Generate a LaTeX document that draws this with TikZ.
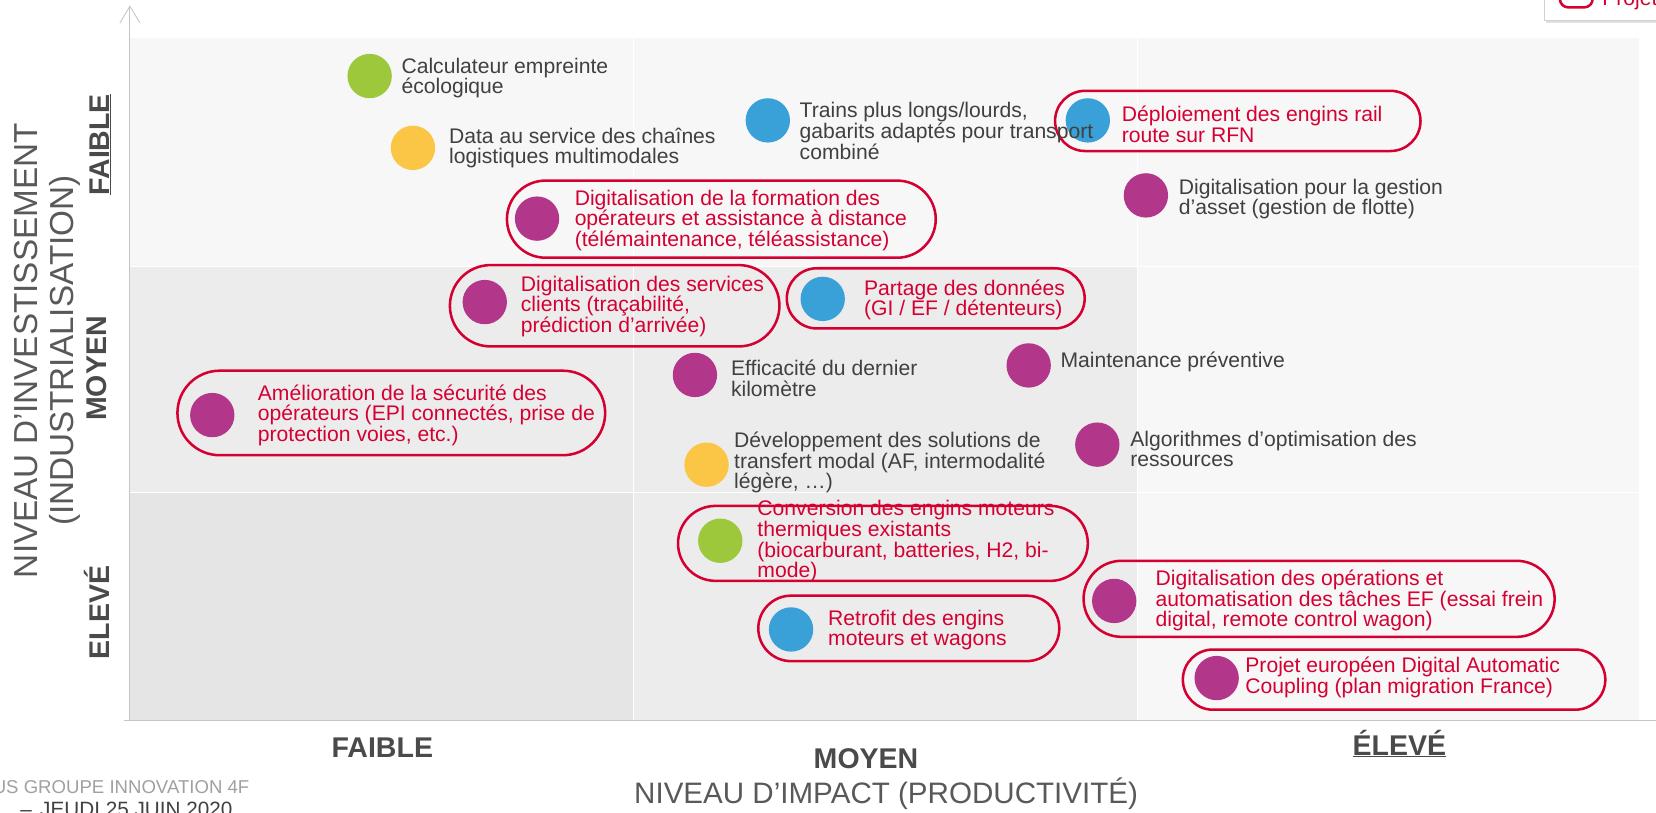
\documentclass[tikz,border=0pt]{standalone}
\usepackage{fontspec}
\setmainfont{Liberation Sans}
\usetikzlibrary{shapes.misc,arrows.meta}
% tight leading for the item labels
\setlength{\lineskiplimit}{-100pt}

\definecolor{projred}{RGB}{213,0,50}
\definecolor{dotpurple}{RGB}{178,55,138}
\definecolor{dotblue}{RGB}{58,160,216}
\definecolor{dotgreen}{RGB}{157,200,59}
\definecolor{dotyellow}{RGB}{251,197,70}
\definecolor{txtgrey}{RGB}{64,64,64}
\definecolor{titlegrey}{RGB}{89,89,89}
\definecolor{levelgrey}{RGB}{74,74,74}
\definecolor{footgrey}{RGB}{160,160,160}
\definecolor{axisline}{RGB}{200,196,192}
\definecolor{bglight}{RGB}{247,247,247}
\definecolor{bgmid}{RGB}{236,236,236}
\definecolor{bgdark}{RGB}{229,229,229}

\tikzset{
  dot/.style={circle, minimum size=42pt, inner sep=0pt},
  lbl/.style={anchor=west, align=left, inner sep=0pt, text=txtgrey,
              font=\fontsize{20}{19.5}\selectfont},
  plbl/.style={lbl, text=projred},
  pill/.style={rounded rectangle, draw=projred, line width=2.4pt, inner sep=0pt},
  gridline/.style={white, line width=1.2pt},
  axis/.style={axisline, line width=1pt},
  level/.style={font=\fontsize{27}{30}\selectfont\bfseries, text=levelgrey, inner sep=0pt},
  axtitle/.style={font=\fontsize{28}{34}\selectfont, text=titlegrey, inner sep=0pt, align=center}
}

\begin{document}
\begin{tikzpicture}[x=1pt,y=-1pt]
\useasboundingbox (0,0) rectangle (1568,769);

% quadrant backgrounds
\fill[bglight] (123,36) rectangle (1552,252);
\fill[bgmid]   (123,252) rectangle (1077,466);
\fill[bglight] (1077,252) rectangle (1552,682);
\fill[bgdark]  (123,466) rectangle (600,682);
\fill[bgmid]   (600,466) rectangle (1077,682);
\draw[gridline] (600,36) -- (600,682);
\draw[gridline] (1077,36) -- (1077,682);
\draw[gridline] (123,252) -- (1552,252);
\draw[gridline] (123,466) -- (1552,466);

% axes
\coordinate (origin) at (123,682);
\coordinate (ytop) at (123,5);
\coordinate (xleft) at (117,682);
\coordinate (xright) at (1568,682);
\draw[axis, -{Straight Barb[length=16pt,width=19pt,line width=0.8pt]}] (origin) -- (ytop);
\draw[axis] (xleft) -- (xright);

% legend (top right)
\fill[black!12] (1464,-30) rectangle (1602,21.5);
\node[draw=black!18, fill=white, line width=0.8pt, minimum width=138pt, minimum height=49.5pt, inner sep=0pt] (legbox) at (1531,-5.25) {};
\node[draw=projred, fill=white, line width=2.4pt, rounded corners=8pt, minimum width=31pt, minimum height=27pt, inner sep=0pt] (legicon) at (1492.5,-6.5) {};
\node[anchor=base west, inner sep=0pt, text=projred, font=\fontsize{20}{19.5}\selectfont] (legtext) at (1517,5.4) {Projet};

% framed items (projects)
\node[pill, minimum width=346pt, minimum height=57pt] (p4)  at (1172,114.5) {};
\node[pill, minimum width=406pt, minimum height=73pt] (p6)  at (683,207.5) {};
\node[pill, minimum width=312pt, minimum height=77pt] (p7)  at (582,289.5) {};
\node[pill, minimum width=282pt, minimum height=57pt] (p8)  at (886,282.5) {};
\node[pill, minimum width=405pt, minimum height=80pt] (p11) at (370.5,391) {};
\node[pill, minimum width=388pt, minimum height=71pt] (p14) at (836,514.5) {};
\node[pill, minimum width=285pt, minimum height=62pt] (p15) at (860.5,595) {};
\node[pill, minimum width=446pt, minimum height=72pt] (p16) at (1249,567) {};
\node[pill, minimum width=400pt, minimum height=57pt] (p17) at (1320,643.5) {};

% dots
\node[dot, fill=dotgreen]  (c1)  at (350,72) {};
\node[dot, fill=dotyellow] (c2)  at (391,140) {};
\node[dot, fill=dotblue]   (c3)  at (727,114) {};
\node[dot, fill=dotblue]   (c4)  at (1030,114) {};
\node[dot, fill=dotpurple] (c5)  at (1085,185) {};
\node[dot, fill=dotpurple] (c6)  at (508.5,207) {};
\node[dot, fill=dotpurple] (c7)  at (459,286) {};
\node[dot, fill=dotblue]   (c8)  at (779,283) {};
\node[dot, fill=dotpurple] (c9)  at (658,355) {};
\node[dot, fill=dotpurple] (c10) at (974,346) {};
\node[dot, fill=dotpurple] (c11) at (201,393) {};
\node[dot, fill=dotyellow] (c12) at (669,440) {};
\node[dot, fill=dotpurple] (c13) at (1039,421) {};
\node[dot, fill=dotgreen]  (c14) at (682,512) {};
\node[dot, fill=dotblue]   (c15) at (749,596) {};
\node[dot, fill=dotpurple] (c16) at (1055,569) {};
\node[dot, fill=dotpurple] (c17) at (1152,642) {};

% item labels
\node[lbl]  (t1)  at (380,74)    {Calculateur empreinte\\écologique};
\node[lbl]  (t2)  at (425,140)   {Data au service des chaînes\\logistiques multimodales};
\node[lbl]  (t3)  at (757,124)   {Trains plus longs/lourds,\\gabarits adaptés pour transport\\combiné};
\node[plbl] (t4)  at (1062,117.5) {Déploiement des engins rail\\route sur RFN};
\node[lbl]  (t5)  at (1116,188.5) {Digitalisation pour la gestion\\d’asset (gestion de flotte)};
\node[plbl] (t6)  at (544,208.5) {Digitalisation de la formation des\\opérateurs et assistance à distance\\(télémaintenance, téléassistance)};
\node[plbl] (t7)  at (493,290)   {Digitalisation des services\\clients (traçabilité,\\prédiction d’arrivée)};
\node[plbl] (t8)  at (818,284)   {Partage des données\\(GI / EF / détenteurs)};
\node[lbl]  (t9)  at (692,358)   {Efficacité du dernier\\kilomètre};
\node[lbl]  (t10) at (1004,343)  {Maintenance préventive};
\node[plbl] (t11) at (244,393)   {Amélioration de la sécurité des\\opérateurs (EPI connectés, prise de\\protection voies, etc.)};
\node[lbl]  (t12) at (695,438)   {Développement des solutions de\\transfert modal (AF, intermodalité\\légère, …)};
\node[lbl]  (t13) at (1070,425)  {Algorithmes d’optimisation des\\ressources};
\node[plbl] (t14) at (717,512.5) {Conversion des engins moteurs\\thermiques existants\\(biocarburant, batteries, H2, bi-\\mode)};
\node[plbl] (t15) at (784,596.5) {Retrofit des engins\\moteurs et wagons};
\node[plbl] (t16) at (1094,568.5) {Digitalisation des opérations et\\automatisation des tâches EF (essai frein\\digital, remote control wagon)};
\node[plbl] (t17) at (1179,641.5) {Projet européen Digital Automatic\\Coupling (plan migration France)};

% axis titles and levels
\node[axtitle, rotate=90, font=\fontsize{31.5}{34}\selectfont] (ytitle) at (45,332) {NIVEAU D’INVESTISSEMENT\\(INDUSTRIALISATION)};
\node[level, rotate=90] (ylow)  at (95,137) {\underline{FAIBLE}};
\node[level, rotate=90] (ymid)  at (92,349) {MOYEN};
\node[level, rotate=90] (yhigh) at (92,580) {ELEVÉ};
\node[level] (xlow)  at (362,708) {FAIBLE};
\node[level] (xmid)  at (820,718) {MOYEN};
\node[level] (xhigh) at (1325,704) {\underline{ÉLEVÉ}};
\node[axtitle] (xtitle) at (839,752) {NIVEAU D’IMPACT (PRODUCTIVITÉ)};

% footer
\node[anchor=base west, inner sep=0pt, text=footgrey, font=\fontsize{17.6}{20}\selectfont] (foot1) at (-7,751) {US GROUPE INNOVATION 4F};
\node[anchor=base west, inner sep=0pt, text=txtgrey, font=\fontsize{19.6}{22}\selectfont] (foot2) at (19,773) {–\hspace{8pt}JEUDI 25 JUIN 2020};
\end{tikzpicture}
\end{document}
